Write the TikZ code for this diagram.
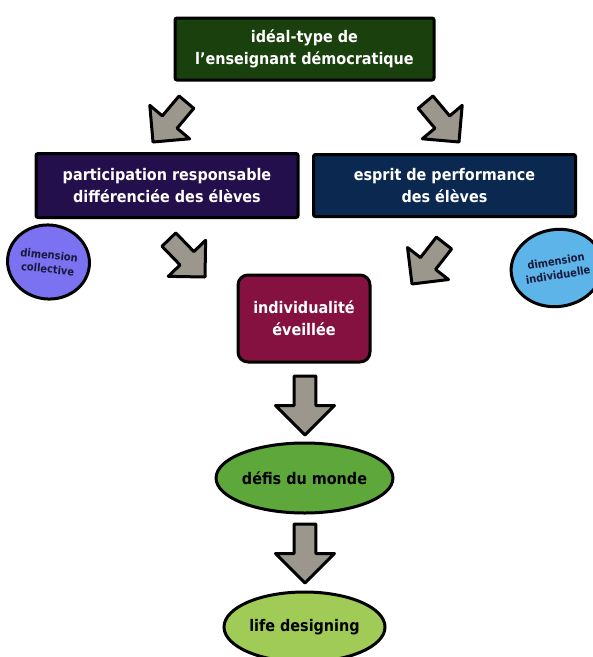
\documentclass[tikz,border=0pt]{standalone}
\usepackage{fontspec}
\setmainfont{DejaVu Sans Condensed}
\usetikzlibrary{shapes.geometric}
\definecolor{topgreen}{RGB}{26,64,13}
\definecolor{leftpurple}{RGB}{35,15,75}
\definecolor{rightnavy}{RGB}{10,40,80}
\definecolor{maroonbox}{RGB}{132,17,63}
\definecolor{collblue}{RGB}{123,114,242}
\definecolor{indblue}{RGB}{92,180,233}
\definecolor{greenone}{RGB}{94,168,59}
\definecolor{greentwo}{RGB}{160,203,86}
\definecolor{arrgray}{RGB}{156,151,140}
\definecolor{circtext}{RGB}{25,25,60}
\tikzset{
  box/.style={draw=black, line width=3pt, rounded corners=2pt, text=white,
    font=\bfseries\fontsize{16}{22}\selectfont, align=center, inner sep=0pt},
  circ/.style={ellipse, draw=black, line width=3pt, text=circtext,
    font=\bfseries\fontsize{11}{14}\selectfont, align=center, inner sep=0pt},
  ell/.style={ellipse, draw=black, line width=3pt, text=black,
    font=\bfseries\fontsize{16}{19}\selectfont, align=center, inner sep=0pt},
  blk/.style={draw=black, line width=3pt, fill=arrgray, line join=round},
  pics/barrow/.style={code={\draw[blk] (0,0) -- (-1,1) -- (-1,0.37) -- (-2,0.37)
      -- (-2,-0.37) -- (-1,-0.37) -- (-1,-1) -- cycle;}}
}
\begin{document}
\begin{tikzpicture}[x=1pt,y=1pt]
\useasboundingbox (0,0) rectangle (593,-657);
\node[box, fill=topgreen, minimum width=259pt, minimum height=62pt] (top) at (304.5,-49)
  {idéal-type de\\l’enseignant démocratique};
\node[box, fill=leftpurple, minimum width=262pt, minimum height=64pt] (part) at (167,-185.5)
  {participation responsable\\différenciée des élèves};
\node[box, fill=rightnavy, minimum width=262pt, minimum height=62pt] (perf) at (444.5,-185.5)
  {esprit de performance\\des élèves};
\node[circ, fill=collblue, minimum width=82pt, minimum height=74pt, rotate=-6] (coll) at (48.5,-262)
  {dimension\\collective};
\node[circ, fill=indblue, minimum width=76pt, minimum height=77pt, rotate=9] (indv) at (557,-268)
  {dimension\\individuelle};
\node[box, fill=maroonbox, rounded corners=10pt, minimum width=132pt, minimum height=87pt] (indiv) at (304,-318.5)
  {individualité\\éveillée};
\node[ell, fill=greenone, minimum width=161pt, minimum height=70pt] (defis) at (304.5,-478)
  {défis du monde};
\node[ell, fill=greentwo, minimum width=161pt, minimum height=70pt] (life) at (304.5,-627)
  {life designing};
% block arrows
\pic[rotate=-130, scale=26] at (153,-142) {barrow};
\pic[rotate=-50, scale=26] at (459,-142) {barrow};
\pic[rotate=-46, scale=26] at (205,-277) {barrow};
\pic[rotate=-128, scale=26] at (412,-284) {barrow};
\pic[rotate=-90, scale=29.5] at (305,-435) {barrow};
\pic[rotate=-90, scale=29.5] at (305,-583) {barrow};
\end{tikzpicture}
\end{document}
